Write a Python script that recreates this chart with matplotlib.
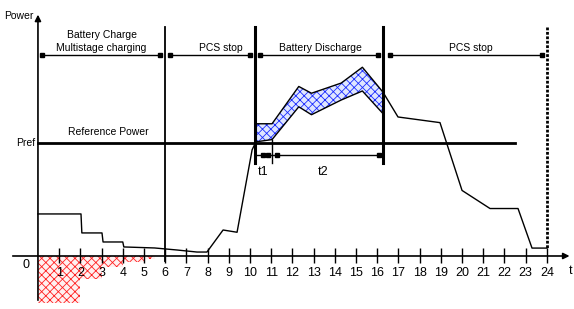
import matplotlib
matplotlib.use('Agg')
import matplotlib.pyplot as plt

plt.rcParams['font.family'] = ['Liberation Sans Narrow', 'Liberation Sans', 'DejaVu Sans']
plt.rcParams['hatch.linewidth'] = 0.6

# power curve up to the start of discharge (t in hours, power relative to Pref)
t_rise = [0.0, 2.03, 2.07, 3.02, 3.07, 4.0, 4.05, 5.5, 6.56, 7.5, 7.97, 8.73, 9.39, 10.1, 10.28]
p_rise = [0.372, 0.372, 0.204, 0.204, 0.124, 0.124, 0.080, 0.071, 0.053, 0.035, 0.035, 0.23, 0.21, 0.94, 1.01]

# discharge band (blue)
t_disc = [10.28, 11.04, 12.3, 12.9, 14.3, 15.3, 16.27]
p_disc_low = [1.01, 1.03, 1.32, 1.25, 1.38, 1.46, 1.26]
p_disc_high = [1.17, 1.17, 1.50, 1.44, 1.53, 1.67, 1.45]

# power curve after discharge
t_tail = [16.27, 16.98, 18.96, 20.0, 21.32, 22.64, 23.3, 24.0]
p_tail = [1.45, 1.23, 1.18, 0.58, 0.42, 0.42, 0.07, 0.07]

# multistage charging blocks (red)
charge_start = [0.0, 1.0, 2.0, 3.0, 4.0, 5.0]
charge_width = [1.0, 1.0, 1.0, 1.0, 1.0, 0.5]
charge_depth = [-0.42, -0.42, -0.20, -0.10, -0.055, -0.025]

# phases along the top
phase_start = [0.19, 6.23, 10.47, 16.6]
phase_end = [5.75, 10.0, 16.04, 23.77]
phase_label = ['Battery Charge\nMultistage charging', 'PCS stop', 'Battery Discharge', 'PCS stop']
phase_center = [3.0, 8.6, 13.3, 20.4]

hours = list(range(1, 25))
p_ref = 1.0

fig = plt.figure(figsize=(5.74, 3.09), dpi=100)
ax = fig.add_axes([0, 0, 1, 1])
ax.set_xlim(-1.79, 25.28)
ax.set_ylim(-0.469, 2.265)
ax.axis('off')

# charging blocks
ax.bar(charge_start, charge_depth, width=charge_width, align='edge',
       facecolor='#fff0f0', edgecolor='#ff2020', hatch='xxxx', linewidth=0, zorder=1)

# discharge band
ax.fill_between(t_disc, p_disc_low, p_disc_high, facecolor='#dfe6ff',
                edgecolor='#1a2cff', hatch='xxxx', linewidth=0, zorder=1)

lk = dict(color='black', lw=1.0, zorder=3)
ax.plot(t_rise, p_rise, **lk)
ax.plot(t_disc, p_disc_low, **lk)
ax.plot(t_disc, p_disc_high, **lk)
ax.plot(t_tail, p_tail, **lk)

# axes with arrows
ax.annotate('', xy=(25.2, 0), xytext=(-1.32, 0),
            arrowprops=dict(arrowstyle='-|>', color='black', lw=1.2, mutation_scale=9))
ax.annotate('', xy=(0, 2.16), xytext=(0, -0.416),
            arrowprops=dict(arrowstyle='-|>', color='black', lw=1.2, mutation_scale=9))
ax.vlines(hours, -0.06, 0.07, color='black', lw=1.0)
for h in hours:
    ax.text(h, -0.15, str(h), ha='center', va='center', fontsize=9)
ax.text(-0.57, -0.08, '0', ha='center', va='center', fontsize=9)
ax.text(25.1, -0.13, 't', ha='center', va='center', fontsize=9)
ax.text(-0.2, 2.12, 'Power', ha='right', va='center', fontsize=7.5)

# reference power
ax.plot([0, 22.5], [p_ref, p_ref], color='black', lw=2.0, zorder=3)
ax.text(3.3, 1.10, 'Reference Power', ha='center', va='center', fontsize=7.5)
ax.text(-0.15, p_ref, 'Pref', ha='right', va='center', fontsize=7.5)

# phase separators
ax.plot([6, 6], [2.03, -0.04], color='black', lw=1.3)
ax.plot([10.24, 10.24], [2.03, 0.82], color='black', lw=2.2)
ax.plot([16.27, 16.27], [2.03, 0.82], color='black', lw=2.2)
ax.plot([24, 24], [2.03, 0.07], color='black', lw=2.0, ls=(0, (1, 0.6)))

for s, e, lab, c in zip(phase_start, phase_end, phase_label, phase_center):
    ax.plot([s, e], [1.78, 1.78], color='black', lw=1.0)
    ax.plot([s, e], [1.78, 1.78], ls='none', marker='s', ms=2.5, color='black')
    ax.text(c, 1.80, lab, ha='center', va='bottom', fontsize=7.5, linespacing=1.35)

# t1 / t2 dimension
ax.plot([11.04, 11.04], [1.03, 0.82], color='black', lw=1.0)
ax.plot([10.28, 16.27], [0.894, 0.894], color='black', lw=1.0)
ax.plot([10.6, 10.85, 11.25, 16.1], [0.894] * 4, ls='none', marker='s', ms=2.5, color='black')
ax.text(10.6, 0.74, 't1', ha='center', va='center', fontsize=9)
ax.text(13.45, 0.74, 't2', ha='center', va='center', fontsize=9)

fig.savefig('out.png', dpi=100)
